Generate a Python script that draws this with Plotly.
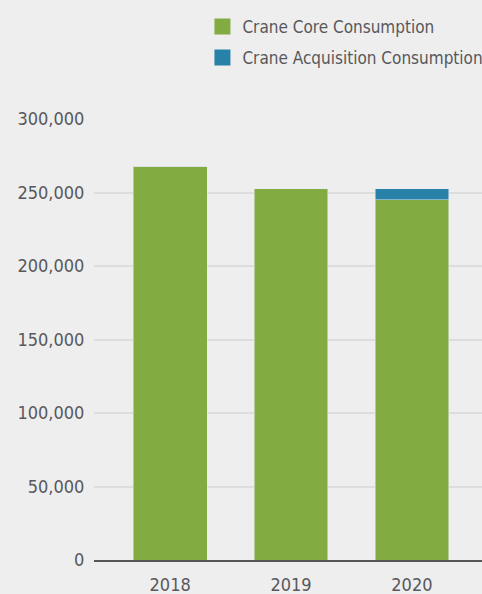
import plotly.graph_objects as go

years = ["2018", "2019", "2020"]
core = [268000, 252500, 245000]
acquisition = [0, 0, 7400]
y_ticks = [0, 50000, 100000, 150000, 200000, 250000, 300000]

GREEN = "#82ab41"
BLUE = "#2882a8"
TEXT = "#58585c"
FONT = "DejaVu Sans Condensed, Liberation Sans Narrow, sans-serif"

fig = go.Figure()
fig.add_trace(go.Bar(x=years, y=core, marker_color=GREEN, width=0.61,
                     showlegend=False, name="Crane Core Consumption"))
fig.add_trace(go.Bar(x=years, y=acquisition, marker_color=BLUE, width=0.61,
                     showlegend=False, name="Crane Acquisition Consumption"))

# legend entries with larger square swatches
for i, (name, color) in enumerate([("Crane Core Consumption", GREEN),
                                   ("Crane Acquisition Consumption", BLUE)]):
    fig.add_trace(go.Scatter(x=[None], y=[None], mode="markers", name=name,
                             legendgroup=f"g{i}",
                             marker=dict(symbol="square", size=16, color=color)))

fig.update_layout(
    width=482, height=594,
    barmode="stack",
    paper_bgcolor="#eeeeee",
    plot_bgcolor="#eeeeee",
    margin=dict(l=94, r=0, t=119, b=34, autoexpand=False),
    font=dict(family=FONT, size=18, color=TEXT),
    legend=dict(xref="container", yref="container", x=0.42, y=0.985,
                xanchor="left", yanchor="top", traceorder="grouped",
                font=dict(size=17, color=TEXT), bgcolor="rgba(0,0,0,0)",
                itemwidth=30, tracegroupgap=6),
    xaxis=dict(type="category", range=[-0.63, 2.58], showgrid=False,
               showline=True, linecolor="#555555", linewidth=2,
               ticks="outside", ticklen=7, tickcolor="rgba(0,0,0,0)",
               tickfont=dict(size=18, color=TEXT)),
    yaxis=dict(range=[0, 300000], tickvals=y_ticks,
               ticktext=[f"{v:,}" for v in y_ticks],
               showgrid=True, gridcolor="#dddddd", gridwidth=2,
               zeroline=False, showline=False,
               ticks="outside", ticklen=5, tickcolor="rgba(0,0,0,0)",
               tickfont=dict(size=18, color=TEXT)),
)

fig.write_html("out.html")
